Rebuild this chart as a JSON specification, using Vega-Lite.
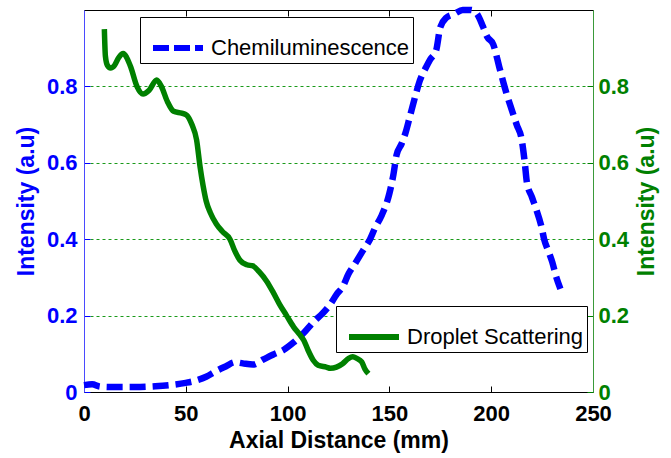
{
  "$schema": "https://vega.github.io/schema/vega-lite/v6.json",
  "width": 509,
  "height": 382,
  "autosize": "none",
  "padding": {"left": 84, "top": 10, "right": 78, "bottom": 66},
  "background": "white",
  "config": {
    "view": {"stroke": null},
    "axis": {
      "labelFont": "Liberation Sans",
      "labelFontWeight": "bold",
      "labelFontSize": 22,
      "titleFont": "Liberation Sans",
      "titleFontWeight": "bold",
      "titleFontSize": 23,
      "tickSize": -6,
      "tickWidth": 1,
      "domainWidth": 1
    },
    "legend": {
      "labelFont": "Liberation Sans",
      "labelFontSize": 22,
      "labelColor": "black",
      "labelLimit": 0,
      "fillColor": "white",
      "strokeColor": "black",
      "padding": 3,
      "symbolOffset": 7,
      "symbolType": "stroke",
      "symbolSize": 2500,
      "symbolStrokeWidth": 6,
      "labelOffset": 5
    }
  },
  "datasets": {
    "chemi": [
      {"mm": 0, "v": 0.018}, {"mm": 4, "v": 0.02}, {"mm": 8, "v": 0.014}, {"mm": 15, "v": 0.013},
      {"mm": 25, "v": 0.013}, {"mm": 35, "v": 0.015}, {"mm": 42, "v": 0.018}, {"mm": 50, "v": 0.024},
      {"mm": 55, "v": 0.03}, {"mm": 60, "v": 0.04}, {"mm": 65, "v": 0.055}, {"mm": 70, "v": 0.068},
      {"mm": 74, "v": 0.078}, {"mm": 78, "v": 0.075}, {"mm": 83, "v": 0.072}, {"mm": 88, "v": 0.085},
      {"mm": 93, "v": 0.098}, {"mm": 98, "v": 0.11}, {"mm": 103, "v": 0.13}, {"mm": 108, "v": 0.155},
      {"mm": 113, "v": 0.185}, {"mm": 117, "v": 0.205}, {"mm": 121, "v": 0.23}, {"mm": 124, "v": 0.255},
      {"mm": 127, "v": 0.275}, {"mm": 130, "v": 0.31}, {"mm": 133, "v": 0.335}, {"mm": 137, "v": 0.37},
      {"mm": 140.5, "v": 0.4}, {"mm": 143, "v": 0.43}, {"mm": 146, "v": 0.46}, {"mm": 150, "v": 0.52},
      {"mm": 152, "v": 0.57}, {"mm": 153.5, "v": 0.62}, {"mm": 156, "v": 0.65}, {"mm": 158, "v": 0.68},
      {"mm": 160, "v": 0.72}, {"mm": 163, "v": 0.78}, {"mm": 165, "v": 0.816}, {"mm": 168, "v": 0.85},
      {"mm": 170, "v": 0.87}, {"mm": 173, "v": 0.895}, {"mm": 175, "v": 0.955}, {"mm": 178, "v": 0.98},
      {"mm": 182, "v": 0.99}, {"mm": 186, "v": 1.0}, {"mm": 190, "v": 1.0}, {"mm": 193, "v": 0.99},
      {"mm": 196, "v": 0.956}, {"mm": 198, "v": 0.93}, {"mm": 201, "v": 0.91}, {"mm": 204, "v": 0.85},
      {"mm": 206, "v": 0.81}, {"mm": 207.6, "v": 0.78}, {"mm": 210, "v": 0.74}, {"mm": 212.5, "v": 0.7},
      {"mm": 215, "v": 0.66}, {"mm": 216.5, "v": 0.6}, {"mm": 217.5, "v": 0.55}, {"mm": 220, "v": 0.51},
      {"mm": 222, "v": 0.48}, {"mm": 224.8, "v": 0.43}, {"mm": 226, "v": 0.4}, {"mm": 228, "v": 0.37},
      {"mm": 230, "v": 0.34}, {"mm": 232, "v": 0.3}, {"mm": 234, "v": 0.27}
    ],
    "drop": [
      {"mm": 10, "v": 0.95}, {"mm": 10.5, "v": 0.88}, {"mm": 11.5, "v": 0.855}, {"mm": 13, "v": 0.848},
      {"mm": 15, "v": 0.855}, {"mm": 17, "v": 0.875}, {"mm": 19.3, "v": 0.886}, {"mm": 21, "v": 0.875},
      {"mm": 23, "v": 0.85}, {"mm": 26, "v": 0.8}, {"mm": 29, "v": 0.78}, {"mm": 32, "v": 0.79},
      {"mm": 35.7, "v": 0.817}, {"mm": 38, "v": 0.8}, {"mm": 41, "v": 0.76}, {"mm": 44, "v": 0.735},
      {"mm": 48, "v": 0.73}, {"mm": 50.4, "v": 0.725}, {"mm": 53, "v": 0.7}, {"mm": 55.3, "v": 0.66},
      {"mm": 57, "v": 0.59}, {"mm": 58.5, "v": 0.54}, {"mm": 60, "v": 0.5}, {"mm": 62, "v": 0.47},
      {"mm": 65, "v": 0.44}, {"mm": 68, "v": 0.42}, {"mm": 71.7, "v": 0.4}, {"mm": 74, "v": 0.37},
      {"mm": 76.6, "v": 0.345}, {"mm": 80, "v": 0.333}, {"mm": 83, "v": 0.33}, {"mm": 86, "v": 0.315},
      {"mm": 89.7, "v": 0.29}, {"mm": 93, "v": 0.26}, {"mm": 96, "v": 0.23}, {"mm": 99.5, "v": 0.2},
      {"mm": 103, "v": 0.17}, {"mm": 106, "v": 0.15}, {"mm": 108, "v": 0.135}, {"mm": 110, "v": 0.11},
      {"mm": 112.6, "v": 0.083}, {"mm": 115, "v": 0.07}, {"mm": 119, "v": 0.065}, {"mm": 121, "v": 0.062},
      {"mm": 124, "v": 0.065}, {"mm": 127, "v": 0.074}, {"mm": 130, "v": 0.088}, {"mm": 132, "v": 0.092},
      {"mm": 134, "v": 0.088}, {"mm": 136.4, "v": 0.079}, {"mm": 138, "v": 0.06}, {"mm": 139.7, "v": 0.048}
    ]
  },
  "layer": [
    {
      "data": {"name": "chemi"},
      "mark": {"type": "line", "strokeWidth": 6.5, "strokeDash": [16, 7], "interpolate": "monotone"},
      "encoding": {
        "x": {
          "field": "mm", "type": "quantitative",
          "scale": {"domain": [0, 250], "nice": false},
          "axis": {
            "orient": "bottom", "title": "Axial Distance (mm)", "values": [0, 50, 100, 150, 200, 250],
            "labelFlush": false, "grid": false, "domainColor": "black", "tickColor": "black",
            "labelColor": "black", "titleColor": "black", "labelPadding": 17, "titlePadding": 5
          }
        },
        "y": {
          "field": "v", "type": "quantitative",
          "scale": {"domain": [0, 1], "nice": false},
          "axis": {
            "orient": "left", "title": "Intensity (a.u)", "values": [0, 0.2, 0.4, 0.6, 0.8],
            "labelExpr": "datum.value == 0 ? '0' : format(datum.value, '.1f')",
            "grid": true, "gridColor": "#1a9a1a", "gridDash": [3, 3], "gridWidth": 1,
            "domainColor": "#4a4aff", "tickColor": "#0000ff", "labelColor": "#0000ff", "titleColor": "#0000ff",
            "labelPadding": 13, "titlePadding": 8
          }
        },
        "color": {
          "datum": "Chemiluminescence",
          "scale": {"range": ["#0000ff"]},
          "legend": {"title": null, "orient": "none", "legendX": 56, "legendY": 7, "symbolDash": [16, 5]}
        }
      }
    },
    {
      "data": {"name": "drop"},
      "mark": {"type": "line", "strokeWidth": 5.5, "interpolate": "monotone"},
      "encoding": {
        "x": {
          "field": "mm", "type": "quantitative",
          "scale": {"domain": [0, 250], "nice": false},
          "axis": {
            "orient": "top", "title": null, "labels": false, "values": [0, 50, 100, 150, 200, 250],
            "grid": false, "domainColor": "black", "tickColor": "black"
          }
        },
        "y": {
          "field": "v", "type": "quantitative",
          "scale": {"domain": [0, 1], "nice": false},
          "axis": {
            "orient": "right", "title": "Intensity (a.u)", "titleAngle": 270, "values": [0, 0.2, 0.4, 0.6, 0.8],
            "labelExpr": "datum.value == 0 ? '0' : format(datum.value, '.1f')",
            "grid": false, "domainColor": "#3a9a3a", "tickColor": "#008000", "labelColor": "#008000", "titleColor": "#008000",
            "labelPadding": 11, "titlePadding": 30
          }
        },
        "color": {
          "datum": "Droplet Scattering",
          "scale": {"range": ["#008000"]},
          "legend": {"title": null, "orient": "none", "legendX": 252, "legendY": 296}
        }
      }
    }
  ],
  "resolve": {
    "scale": {"y": "independent", "color": "independent"},
    "axis": {"x": "independent"},
    "legend": {"color": "independent"}
  }
}
